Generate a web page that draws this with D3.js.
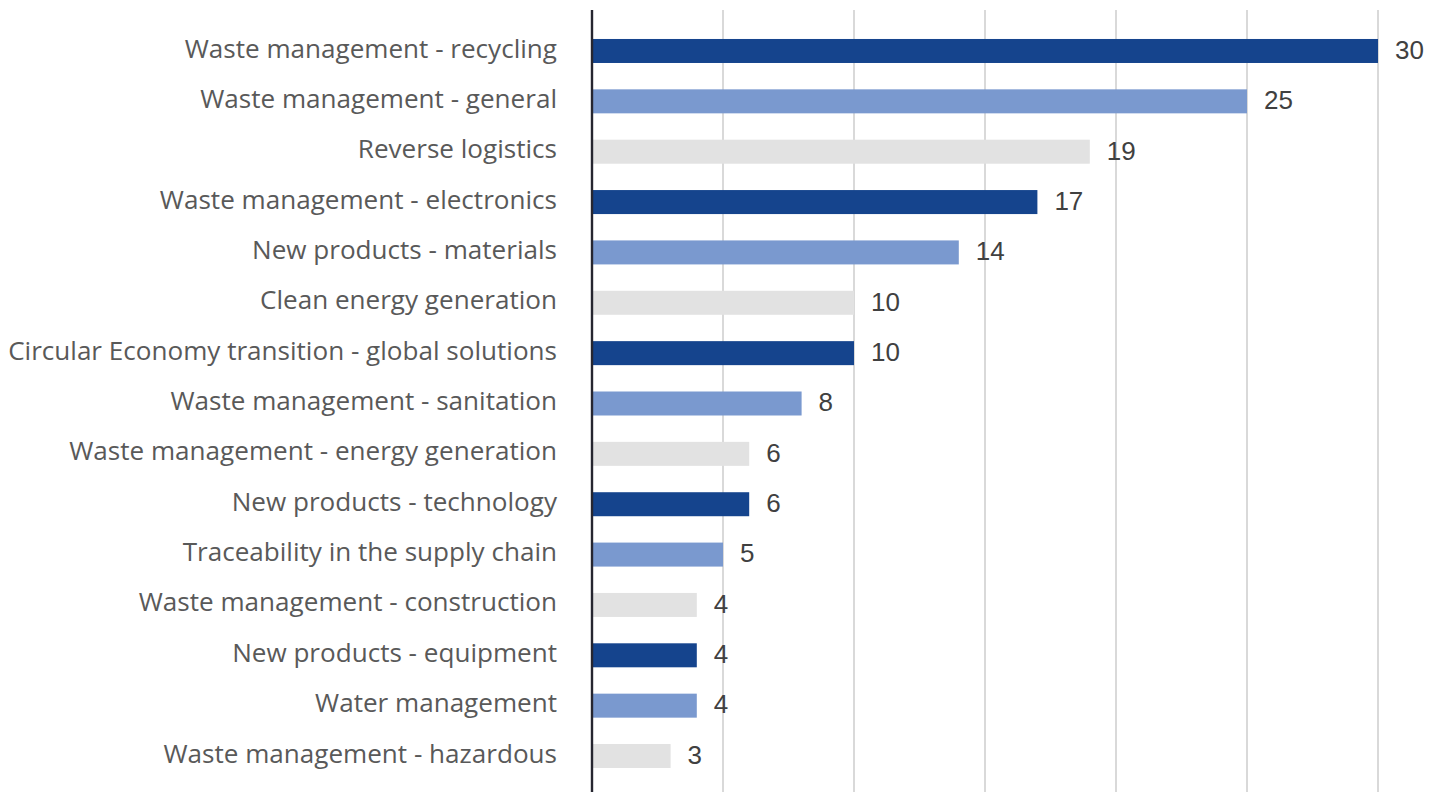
<!DOCTYPE html>
<html>
<head>
<meta charset="utf-8">
<script src="https://cdn.jsdelivr.net/npm/d3@7"></script>
<style>
  html, body { margin: 0; padding: 0; background: #ffffff; }
  svg { display: block; }
</style>
</head>
<body>
<svg id="chart" width="1443" height="792"></svg>
<script>
// Categories, top to bottom
const categories = [
  "Waste management - recycling",
  "Waste management - general",
  "Reverse logistics",
  "Waste management - electronics",
  "New products - materials",
  "Clean energy generation",
  "Circular Economy transition - global solutions",
  "Waste management - sanitation",
  "Waste management - energy generation",
  "New products - technology",
  "Traceability in the supply chain",
  "Waste management - construction",
  "New products - equipment",
  "Water management",
  "Waste management - hazardous"
];
const counts = [30, 25, 19, 17, 14, 10, 10, 8, 6, 6, 5, 4, 4, 4, 3];
const gridTicks = [5, 10, 15, 20, 25, 30];
const palette = ["#15448d", "#7a99cf", "#e2e2e2"];

const svg = d3.select("#chart");
const x0 = 592, x1 = 1378;
const x = d3.scaleLinear().domain([0, 30]).range([x0, x1]);
const y = d3.scaleBand()
  .domain(categories)
  .range([25.8, 781.2])
  .paddingInner(0.5234)
  .paddingOuter(0.2617);

// vertical gridlines
svg.append("g")
  .selectAll("line")
  .data(gridTicks)
  .join("line")
  .attr("x1", d => x(d)).attr("x2", d => x(d))
  .attr("y1", 10).attr("y2", 792)
  .attr("stroke", "#d9d9d9")
  .attr("stroke-width", 2);

// bars, colours cycling dark / mid / light
svg.append("g")
  .selectAll("rect")
  .data(categories)
  .join("rect")
  .attr("x", x(0) + 1)
  .attr("y", d => y(d))
  .attr("width", (d, i) => x(counts[i]) - x(0) - 1)
  .attr("height", y.bandwidth())
  .attr("fill", (d, i) => palette[i % 3]);

// category axis
const yAxis = d3.axisLeft(y).tickSize(0).tickPadding(35);
const gy = svg.append("g")
  .attr("transform", `translate(${x0},0)`)
  .call(yAxis);
gy.select(".domain").remove();
const labels = gy.selectAll("text")
  .attr("fill", "#595959")
  .attr("dy", "0.25em")
  .style("font-family", "'Open Sans', sans-serif")
  .style("font-size", "24px");

// fit the label size so the longest label spans 549px
const widest = d3.max(labels.nodes(), n => n.getComputedTextLength());
labels.style("font-size", (24 * 549 / widest).toFixed(2) + "px");

// axis baseline
svg.append("line")
  .attr("x1", x0).attr("x2", x0)
  .attr("y1", 10).attr("y2", 792)
  .attr("stroke", "#262630")
  .attr("stroke-width", 2.4);

// value labels
svg.append("g")
  .selectAll("text")
  .data(categories)
  .join("text")
  .attr("x", (d, i) => x(counts[i]) + 17)
  .attr("y", d => y(d) + y.bandwidth() / 2)
  .attr("dy", "0.30em")
  .attr("fill", "#404040")
  .style("font-family", "'Liberation Sans', Arial, sans-serif")
  .style("font-size", "26px")
  .text((d, i) => counts[i]);
</script>
</body>
</html>
